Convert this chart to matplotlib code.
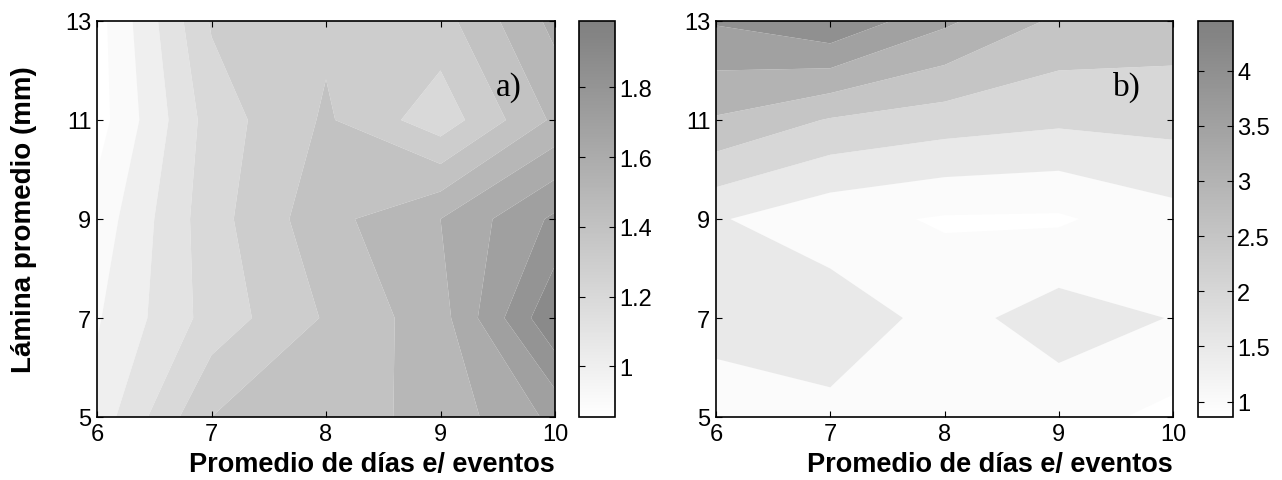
import numpy as np
import matplotlib
matplotlib.use('Agg')
import matplotlib.pyplot as plt
from matplotlib.colors import LinearSegmentedColormap, Normalize
from matplotlib.cm import ScalarMappable

# ── Data (5 x 5 grid, rows = lámina, cols = días) ─────────────────────────────
dias   = [6, 7, 8, 9, 10]
lamina = [5, 7, 9, 11, 13]

z_a = [[1.04, 1.40, 1.45, 1.535, 1.725],
       [0.99, 1.24, 1.41, 1.56,  1.99],
       [0.94, 1.26, 1.466, 1.60, 1.82],
       [0.855, 1.247, 1.414, 1.24, 1.52],
       [0.86, 1.31, 1.38, 1.36,  1.63]]

z_b = [[1.30, 1.35, 1.20, 1.20, 0.86],
       [1.64, 1.85, 1.30, 1.75, 1.48],
       [1.55, 1.15, 0.95, 0.93, 1.32],
       [2.95, 2.46, 2.25, 2.10, 2.17],
       [4.05, 4.45, 3.60, 2.90, 2.77]]

levels_a = [0.9, 1.0, 1.1, 1.2, 1.3, 1.4, 1.5, 1.6, 1.7, 1.8, 1.9]
levels_b = [1.0, 1.5, 2.0, 2.5, 3.0, 3.5, 4.0]

cticks_a = [1, 1.2, 1.4, 1.6, 1.8]
cticks_b = [1, 1.5, 2, 2.5, 3, 3.5, 4]
clabels_a = ["1", "1.2", "1.4", "1.6", "1.8"]
clabels_b = ["1", "1.5", "2", "2.5", "3", "3.5", "4"]

panel_tags = ["a)", "b)"]

# ── Style ─────────────────────────────────────────────────────────────────────
plt.rcParams['font.family'] = ['Liberation Sans', 'DejaVu Sans']
cmap = LinearSegmentedColormap.from_list("wgray", [(1, 1, 1), (0.5, 0.5, 0.5)])

W, H = 1282, 481
fig = plt.figure(figsize=(W / 100, H / 100), dpi=100)

def frac(x0, x1, y_top, y_bot):
    return [x0 / W, 1 - y_bot / H, (x1 - x0) / W, (y_bot - y_top) / H]

ax_boxes = [frac(97, 555, 22, 418), frac(716, 1173, 22, 418)]
cb_boxes = [frac(579, 615, 22, 418), frac(1198, 1233, 22, 418)]

X, Y = np.meshgrid(dias, lamina)

for i, (z, lev, ct, cl, tag) in enumerate(zip(
        [z_a, z_b], [levels_a, levels_b], [cticks_a, cticks_b],
        [clabels_a, clabels_b], panel_tags)):
    Z = np.array(z)
    zmin, zmax = Z.min(), Z.max()
    norm = Normalize(vmin=zmin, vmax=zmax)
    bounds = [zmin] + lev + [zmax]
    # MATLAB-style fill: each band takes the colour of its lower level
    band_cols = [cmap(norm(b)) for b in bounds[:-1]]

    ax = fig.add_axes(ax_boxes[i])
    ax.contourf(X, Y, Z, levels=bounds, colors=band_cols, antialiased=True)
    ax.set_xlim(6, 10)
    ax.set_ylim(5, 13)
    ax.set_xticks(dias)
    ax.set_yticks(lamina)
    ax.tick_params(direction='in', top=True, right=True, length=4, width=0.8,
                   labelsize=17)
    ax.tick_params(axis='x', pad=4)
    ax.tick_params(axis='y', pad=4)
    for s in ax.spines.values():
        s.set_linewidth(1.2)
    ax.set_xlabel("Promedio de días e/ eventos", fontsize=19.5, fontweight='bold')
    ax.xaxis.set_label_coords(0.6, -0.085)
    if i == 0:
        ax.set_ylabel("Lámina promedio (mm)", fontsize=20, fontweight='bold')
        ax.yaxis.set_label_coords(-0.13, 0.5)
    ax.text(9.6, 11.68, tag, fontsize=24, family='Liberation Serif',
            ha='center', va='center')

    cax = fig.add_axes(cb_boxes[i])
    cb = fig.colorbar(ScalarMappable(norm=norm, cmap=cmap), cax=cax)
    cb.set_ticks(ct)
    cb.set_ticklabels(cl)
    cb.outline.set_linewidth(1.2)
    cax.yaxis.set_ticks_position('both')
    cax.tick_params(direction='in', length=4, width=0.8, labelsize=17,
                    labelleft=False, labelright=True, pad=3)

fig.savefig("out.png", dpi=100)
